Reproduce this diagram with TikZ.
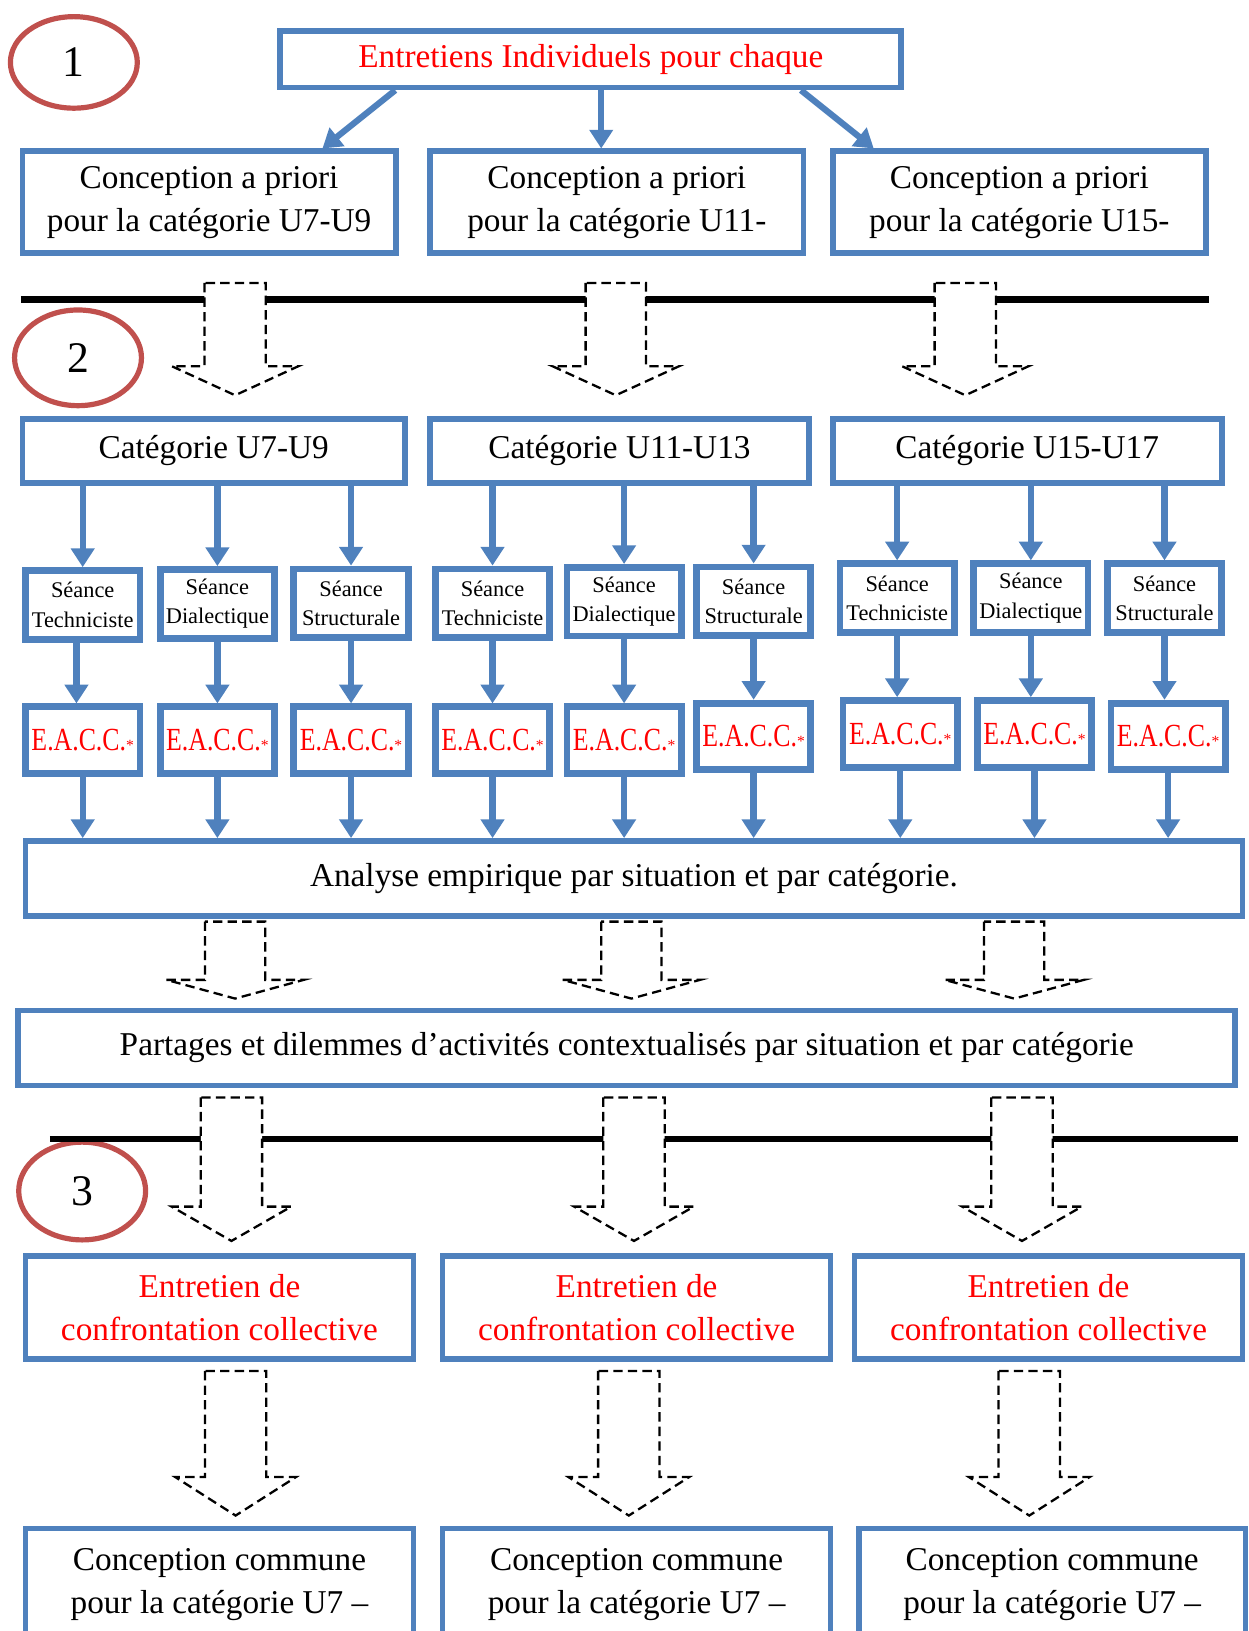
\documentclass[tikz,border=0pt]{standalone}
\usepackage{fontspec}
\setmainfont{Liberation Serif}
\usetikzlibrary{arrows.meta,shapes.geometric}
\definecolor{bblue}{RGB}{79,129,189}
\definecolor{cred}{RGB}{192,80,77}
\definecolor{tred}{RGB}{255,0,0}
\newcommand{\dashblock}[6]{%
  \draw[dblk] (#1-#5,#2) -- (#1-#5,#3) -- (#1-#6,#3) -- (#1,#4) -- (#1+#6,#3) -- (#1+#5,#3) -- (#1+#5,#2) -- cycle;}
\newcommand{\eacc}{\scalebox{0.8}[1]{E.A.C.C.}{\fontsize{15}{15}\selectfont *}}
\begin{document}
\begin{tikzpicture}[x=1pt,y=-1pt,
  bbox/.style={draw=bblue, line width=5.5pt, fill=white, inner sep=0pt, align=center, font=\fontsize{32}{41}\selectfont},
  sbox/.style={draw=bblue, line width=6.5pt, fill=white, inner sep=0pt, align=center, minimum width=110pt, minimum height=66pt, font=\fontsize{21.5}{28}\selectfont},
  ebox/.style={sbox, minimum height=64pt, text=tred, font=\fontsize{31}{32}\selectfont},
  barrow/.style={draw=bblue, line width=6pt, -{Triangle[width=22pt,length=18pt]}},
  dblk/.style={draw=black, line width=2.2pt, dash pattern=on 9pt off 5pt, fill=white},
  numc/.style={ellipse, draw=cred, line width=5pt, inner sep=0pt, minimum width=122pt, minimum height=88pt, font=\fontsize{42}{42}\selectfont},
  sepline/.style={line width=6pt, black}
]
\useasboundingbox (0,0) rectangle (1200,1568);

% number circles
\node[numc] (n1) at (71,60) {1};
\node[numc, minimum height=92pt] (n2) at (75,344) {2};
\node[numc, minimum height=94pt] (n3) at (79,1145) {3};

% separator lines
\draw[sepline] (20,288) -- (1162,288);
\draw[sepline] (48,1095) -- (1190,1095);

% dashed block arrows
\dashblock{226}{272}{352}{380}{29.5}{61}
\dashblock{592}{272}{352}{380}{29}{61}
\dashblock{928}{272}{352}{380}{29.5}{61}
\dashblock{226}{886}{942}{960}{29}{66}
\dashblock{607}{886}{942}{960}{29}{66}
\dashblock{975}{886}{942}{960}{29}{67}
\dashblock{222.5}{1055}{1160}{1193}{29.5}{57.5}
\dashblock{609.5}{1055}{1160}{1193}{29.5}{57.5}
\dashblock{982.5}{1055}{1160}{1193}{29.5}{57.5}
\dashblock{226.5}{1318}{1420}{1457}{29.5}{58}
\dashblock{604.5}{1318}{1420}{1457}{29.5}{58}
\dashblock{989.5}{1318}{1420}{1457}{29.5}{58}

% stage 1
\node[bbox, minimum width=597pt, minimum height=54pt, text=tred] (top) at (568,57) {Entretiens Individuels pour chaque};
\node[bbox, minimum width=359pt, minimum height=98pt] (a1) at (201,194.5) {Conception a priori\\pour la catégorie U7-U9};
\node[bbox, minimum width=359pt, minimum height=98pt] (a2) at (593,194.5) {Conception a priori\\pour la catégorie U11-};
\node[bbox, minimum width=359pt, minimum height=98pt] (a3) at (980,194.5) {Conception a priori\\pour la catégorie U15-};
\draw[barrow] ([xshift=-188pt]top.south) -- ([xshift=109pt]a1.north);
\draw[barrow] ([xshift=10pt]top.south) -- ([xshift=-15pt]a2.north);
\draw[barrow] ([xshift=202pt]top.south) -- ([xshift=-140pt]a3.north);

% stage 2 categories
\node[bbox, minimum width=368pt, minimum height=62pt] (c1) at (205.5,433.5) {Catégorie U7-U9};
\node[bbox, minimum width=364pt, minimum height=62pt] (c2) at (595.5,433.5) {Catégorie U11-U13};
\node[bbox, minimum width=374pt, minimum height=62pt] (c3) at (987.5,433.5) {Catégorie U15-U17};

% seances
\node[sbox] (t1) at (79.5,581.5) {Séance\\Techniciste};
\node[sbox] (d1) at (209,580.5) {Séance\\Dialectique};
\node[sbox] (s1) at (337.5,580) {Séance\\Structurale};
\node[sbox] (t2) at (473.5,580) {Séance\\Techniciste};
\node[sbox] (d2) at (600,578.5) {Séance\\Dialectique};
\node[sbox] (s2) at (724.5,578) {Séance\\Structurale};
\node[sbox] (t3) at (862.5,575) {Séance\\Techniciste};
\node[sbox] (d3) at (991,575) {Séance\\Dialectique};
\node[sbox] (s3) at (1119.5,575) {Séance\\Structurale};

% EACC
\node[ebox] (e1) at (79.5,711.5) {\eacc};
\node[ebox] (e2) at (209,711.5) {\eacc};
\node[ebox] (e3) at (337.5,711.5) {\eacc};
\node[ebox] (e4) at (473.5,711.5) {\eacc};
\node[ebox] (e5) at (600,711.5) {\eacc};
\node[ebox] (e6) at (724.5,708) {\eacc};
\node[ebox] (e7) at (865.5,705.5) {\eacc};
\node[ebox] (e8) at (994.5,705.5) {\eacc};
\node[ebox] (e9) at (1123,708) {\eacc};

\node[bbox, minimum width=1170pt, minimum height=72pt] (an) at (609.5,844.5) {Analyse empirique par situation et par catégorie.};
\node[bbox, minimum width=1170pt, minimum height=72pt] (pa) at (602.5,1007.5) {Partages et dilemmes d’activités contextualisés par situation et par catégorie};

% category -> seance
\foreach \c/\s in {c1/t1,c1/d1,c1/s1,c2/t2,c2/d2,c2/s2,c3/t3,c3/d3,c3/s3}
  \draw[barrow] (\s.north |- \c.south) -- (\s.north);
% seance -> EACC
\draw[barrow] ([xshift=-6pt]t1.south) -- ([xshift=-6pt]t1.south |- e1.north);
\foreach \s/\e in {d1/e2,s1/e3,t2/e4,d2/e5,s2/e6,t3/e7,d3/e8,s3/e9}
  \draw[barrow] (\s.south) -- (\s.south |- \e.north);
% EACC -> analyse
\foreach \e in {e1,e2,e3,e4,e5,e6,e7,e8,e9}
  \draw[barrow] (\e.south) -- (\e.south |- an.north);

% stage 3
\node[bbox, minimum width=373pt, minimum height=99pt, text=tred] (f1) at (211,1257) {Entretien de\\confrontation collective};
\node[bbox, minimum width=373pt, minimum height=99pt, text=tred] (f2) at (612,1257) {Entretien de\\confrontation collective};
\node[bbox, minimum width=373pt, minimum height=99pt, text=tred] (f3) at (1008,1257) {Entretien de\\confrontation collective};

\node[bbox, minimum width=373pt, minimum height=108pt] (g1) at (211,1523.5) {Conception commune\\pour la catégorie U7 –};
\node[bbox, minimum width=373pt, minimum height=108pt] (g2) at (612,1523.5) {Conception commune\\pour la catégorie U7 –};
\node[bbox, minimum width=372pt, minimum height=108pt] (g3) at (1011.5,1523.5) {Conception commune\\pour la catégorie U7 –};
\end{tikzpicture}
\end{document}
